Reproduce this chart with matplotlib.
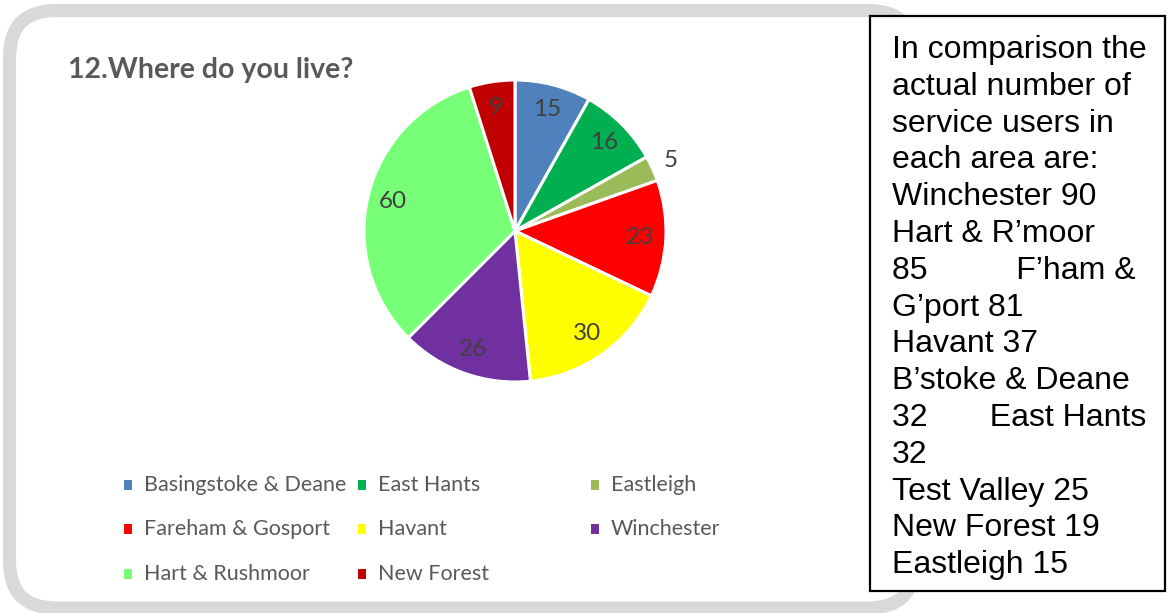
import numpy as np
import matplotlib.pyplot as plt
from matplotlib.patches import FancyBboxPatch, Rectangle

# survey answers: where respondents live
areas = ["Basingstoke & Deane", "East Hants", "Eastleigh",
         "Fareham & Gosport", "Havant", "Winchester",
         "Hart & Rushmoor", "New Forest"]
counts = [15, 16, 5, 23, 30, 26, 60, 9]
colours = ["#4F81BD", "#00B050", "#9BBB59", "#FF0000",
           "#FFFF00", "#7030A0", "#77FF77", "#C00000"]

note_lines = [
    "In comparison the",
    "actual number of",
    "service users in",
    "each area are:",
    "Winchester 90",
    "Hart & R\u2019moor",
    "85          F\u2019ham &",
    "G\u2019port 81",
    "Havant 37",
    "B\u2019stoke & Deane",
    "32       East Hants",
    "32",
    "Test Valley 25",
    "New Forest 19",
    "Eastleigh 15",
]

W, H = 1167, 613
fig = plt.figure(figsize=(W / 100, H / 100), dpi=100)
fig.patch.set_facecolor("white")

# px helpers (origin top-left)
def fx(x):
    return x / W

def fy(y):
    return 1 - y / H

# grey rounded frame around the chart
frame = FancyBboxPatch((fx(9.5), fy(608)), fx(915) - fx(9.5), fy(10.5) - fy(608),
                       boxstyle="round,pad=0,rounding_size=0.04",
                       mutation_aspect=W / H,
                       transform=fig.transFigure, facecolor="none",
                       edgecolor="#D9D9D9", linewidth=9.5, zorder=-1)
fig.patches.append(frame)

fig.text(fx(68), fy(78), "12.Where do you live?", family="Lato", weight="bold",
         fontsize=20.5, color="#595959", va="baseline", ha="left")

# pie
cx, cy, r = 515, 231, 151
ax = fig.add_axes([fx(cx - r), fy(cy + r), fx(2 * r), fy(cy - r) - fy(cy + r)])
total = sum(counts)
wedges, texts, autotexts = ax.pie(
    counts, colors=colours, startangle=90, counterclock=False,
    autopct=lambda p: "%d" % round(p * total / 100), pctdistance=0.83,
    wedgeprops=dict(edgecolor="white", linewidth=2.2),
    textprops=dict(family="Lato", fontsize=17.5, color="#404040"))
ax.set_xlim(-1, 1)
ax.set_ylim(-1, 1)
ax.set_aspect("equal")
ax.axis("off")

# the thin Eastleigh slice gets its label outside
w = wedges[2]
mid = np.deg2rad((w.theta1 + w.theta2) / 2)
autotexts[2].set_position((1.13 * np.cos(mid), 1.13 * np.sin(mid)))

# legend laid out in three columns
col_x = [128, 362, 595]
row_y = [485, 529, 574]
for i, (name, c) in enumerate(zip(areas, colours)):
    row, col = divmod(i, 3)
    x, y = col_x[col], row_y[row]
    fig.patches.append(Rectangle((fx(x - 4), fy(y + 5)), fx(8), fy(0) - fy(10),
                                 transform=fig.transFigure, facecolor=c,
                                 edgecolor="none"))
    fig.text(fx(x + 16), fy(y), name, family="Lato", fontsize=15.5,
             color="#595959", va="center", ha="left")

# comparison note box
fig.patches.append(Rectangle((fx(870), fy(591)), fx(1165) - fx(870), fy(16) - fy(591),
                             transform=fig.transFigure, facecolor="white",
                             edgecolor="black", linewidth=1.6, zorder=3))
for i, line in enumerate(note_lines):
    fig.text(fx(892), fy(58 + i * 36.8), line, family="Liberation Sans",
             fontsize=23, color="black", va="baseline", ha="left", zorder=4)

fig.savefig("out.png", dpi=100)
